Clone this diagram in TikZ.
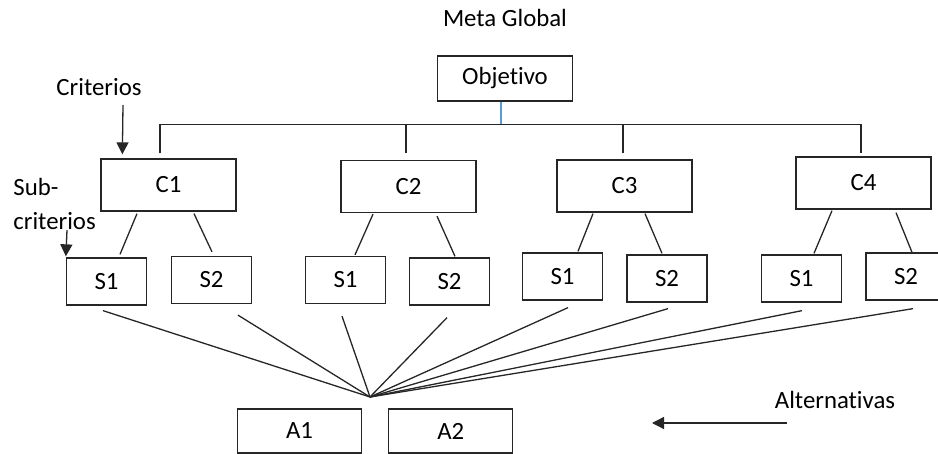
\documentclass[tikz,border=0pt]{standalone}
\usepackage{fontspec}
\setmainfont[Ligatures=NoCommon]{Carlito}
\usetikzlibrary{arrows.meta, positioning}
\definecolor{stemblue}{HTML}{5B9BD5}

\begin{document}
\begin{tikzpicture}[x=0.5pt, y=-0.5pt, font=\fontsize{12.4}{17}\selectfont]
\tikzset{% one unit = one pixel of the sketch
  box/.style={rectangle, draw, line width=0.65pt, color=black!85, text=black,
    minimum width=67.5pt, minimum height=26pt, inner sep=0pt},
  subbox/.style={box, minimum width=40pt, minimum height=23.5pt},
  altbox/.style={box, minimum width=62pt, minimum height=22pt},
  link/.style={draw, line width=0.65pt, color=black!85},
  pointer/.style={link, -{Triangle[width=6pt, length=6pt]}},
  note/.style={inner sep=0pt},
}
\useasboundingbox (0,0) rectangle (938,454);

\node[box, minimum height=22.5pt] (Obj) at (505,78.5) {Objetivo};
\node[note, above=14pt of Obj] (Meta) {Meta Global};

\node[box] (C1) at (168.5,185) {C1};
\node[box] (C2) at (408.5,186.5) {C2};
\node[box] (C3) at (624.5,186) {C3};
\node[box] (C4) at (863.5,183) {C4};

\node[subbox] (S11) at (106.5,281.5) {S1};
\node[subbox] (S12) at (211.5,280) {S2};
\node[subbox] (S21) at (345.5,280) {S1};
\node[subbox] (S22) at (449.5,281.5) {S2};
\node[subbox] (S31) at (562.5,276.5) {S1};
\node[subbox] (S32) at (667,278.5) {S2};
\node[subbox] (S41) at (801.5,278.5) {S1};
\node[subbox] (S42) at (906,276.5) {S2};

\node[altbox] (A1) at (299.5,431) {A1};
\node[altbox, right=13pt of A1] (A2) {A2};

\node[note] (Crit) at (99,87) {Criterios};
\node[note, anchor=north west, align=left] (SubCrit) at (13,178) {Sub-\\criterios};
\node[note] (Alt) at (835,400) {Alternativas};

\coordinate (bar) at ([shift={(-4,23)}]Obj.south);
\coordinate (hub) at (370,397);
\coordinate (AltTip) at (652,423);

% goal to criteria
\draw[link, color=stemblue] ([shift={(-4,0)}]Obj.south) -- (bar);
\draw[link] ([shift={(-8.5,-5)}]C1.north) |- (bar);
\draw[link] ([shift={(-2.5,-7)}]C2.north) |- (bar);
\draw[link] ([shift={(-1.5,-6)}]C3.north) |- (bar);
\draw[link] ([shift={(-2.5,-3)}]C4.north) |- (bar);

% criteria to sub-criteria
\draw[link] ([shift={(-31.5,2)}]C1.south) -- ([shift={(13.5,-3)}]S11.north);
\draw[link] ([shift={(25.5,2)}]C1.south) -- ([shift={(0.5,-4)}]S12.north);
\draw[link] ([shift={(-35.5,1)}]C2.south) -- ([shift={(9.5,-1)}]S21.north);
\draw[link] ([shift={(28.5,3)}]C2.south) -- ([shift={(5.5,-1)}]S22.north);
\draw[link] ([shift={(-31.5,1)}]C3.south) -- ([shift={(15.5,-1)}]S31.north);
\draw[link] ([shift={(20.5,1)}]C3.south) -- ([shift={(-5,-1)}]S32.north);
\draw[link] ([shift={(-31.5,1)}]C4.south) -- ([shift={(12.5,-1)}]S41.north);
\draw[link] ([shift={(32.5,3)}]C4.south) -- ([shift={(6,0)}]S42.north);

% sub-criteria to alternatives
\draw[link] ([shift={(-3.5,5)}]S11.south) -- (hub);
\draw[link] ([shift={(26.5,11)}]S12.south) -- (hub);
\draw[link] ([shift={(-3.5,12)}]S21.south) -- (hub);
\draw[link] ([shift={(-2.5,12)}]S22.south) -- (hub);
\draw[link] ([shift={(5.5,7)}]S31.south) -- (hub);
\draw[link] ([shift={(1,6)}]S32.south) -- (hub);
\draw[link] ([shift={(0.5,8)}]S41.south) -- (hub);
\draw[link] ([shift={(7,8)}]S42.south) -- (hub);

% level tags
\draw[pointer] ([shift={(24,18)}]Crit.center) -- ([shift={(22,-4)}]C1.north west);
\draw[pointer] ([shift={(54,0)}]SubCrit.south west) -- ([shift={(0,-1)}]S11.north west);
\draw[pointer] ([shift={(-48,23)}]Alt.center) -- (AltTip);
\end{tikzpicture}
\end{document}
